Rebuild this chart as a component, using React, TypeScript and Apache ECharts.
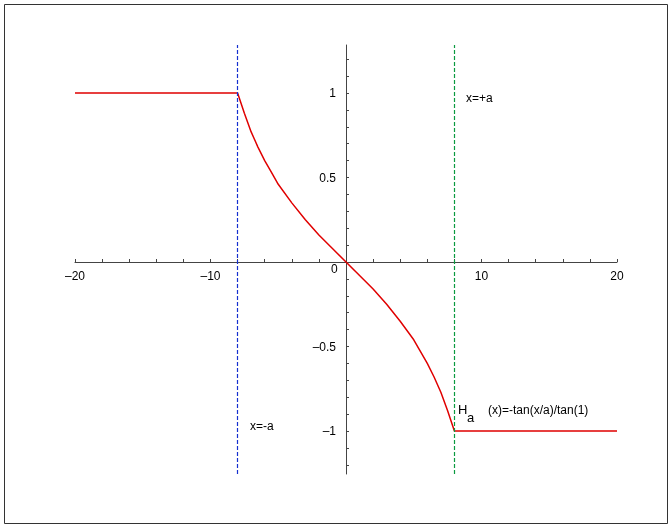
import * as echarts from "echarts";
import { useEffect, useRef } from "react";

// H_a(x), a = 8
const xs = [-20, -8, -7.5, -7, -6.5, -6, -5.5, -5, -4, -3, -2, -1, 0, 1, 2, 3, 4, 5, 5.5, 6, 6.5, 7, 7.5, 8, 20];
const ys = [1, 1, 0.88, 0.77, 0.68, 0.6, 0.53, 0.46, 0.35, 0.25, 0.16, 0.08, 0, -0.08, -0.16, -0.25, -0.35, -0.46, -0.53, -0.6, -0.68, -0.77, -0.88, -1, -1];
const xLabels = [-20, -10, 10, 20];
const yLabels = [-1, -0.5, 0.5, 1];
const xTicks = [-20, -18, -16, -14, -12, -10, -8, -6, -4, -2, 2, 4, 6, 8, 10, 12, 14, 16, 18, 20];
const yTicks = [-1.2, -1.1, -1, -0.9, -0.8, -0.7, -0.6, -0.5, -0.4, -0.3, -0.2, -0.1, 0.1, 0.2, 0.3, 0.4, 0.5, 0.6, 0.7, 0.8, 0.9, 1, 1.1, 1.2];

const dash = (v: number) => String(v).replace("-", "\u2013");

export default function App() {
	const chartRef = useRef<HTMLDivElement>(null);

	useEffect(() => {
		if (!chartRef.current) return;
		const chart = echarts.init(chartRef.current, null, { renderer: "svg" });
		const txt = { fontFamily: "Liberation Sans, Arial", fontSize: 12, color: "#000" };
		const font = "12px Liberation Sans, Arial";
		chart.setOption({
			animation: false,
			grid: { left: 75, right: 55, top: 45, bottom: 55 },
			xAxis: {
				type: "value",
				min: -20,
				max: 20,
				offset: -212,
				axisLine: { onZero: false, lineStyle: { color: "#444" } },
				axisTick: { customValues: xTicks, length: 3, inside: true, lineStyle: { color: "#444" } },
				axisLabel: { customValues: xLabels, formatter: dash, ...txt, margin: 8 },
				splitLine: { show: false },
			},
			yAxis: {
				type: "value",
				min: -1.254,
				max: 1.284,
				offset: -271,
				axisLine: { show: true, onZero: false, lineStyle: { color: "#444" } },
				axisTick: { customValues: yTicks, length: 3, inside: true, lineStyle: { color: "#444" } },
				axisLabel: { customValues: yLabels, formatter: dash, ...txt, margin: 10 },
				splitLine: { show: false },
			},
			graphic: [
				{ type: "rect", shape: { x: 4.5, y: 4.5, width: 663, height: 519 }, style: { fill: "none", stroke: "#333", lineWidth: 1 } },
				{ type: "text", left: 331, top: 263, style: { text: "0", font, fill: "#000" } },
				{ type: "text", left: 466, top: 92, style: { text: "x=+a", font, fill: "#000" } },
				{ type: "text", left: 250, top: 420, style: { text: "x=-a", font, fill: "#000" } },
				{ type: "text", left: 458, top: 403, style: { text: "H", font: "13px Liberation Sans, Arial", fill: "#000" } },
				{ type: "text", left: 467, top: 411, style: { text: "a", font: "13px Liberation Sans, Arial", fill: "#000" } },
				{ type: "text", left: 488, top: 404, style: { text: "(x)=-tan(x/a)/tan(1)", font, fill: "#000" } },
			],
			series: [
				{
					type: "line",
					data: xs.map((x, i) => [x, ys[i]]),
					showSymbol: false,
					lineStyle: { color: "#e00000", width: 1.5 },
					markLine: {
						symbol: "none",
						silent: true,
						label: { show: false },
						data: [
							{ xAxis: -8, lineStyle: { color: "#1530d0", type: [4, 2], width: 1.2 } },
							{ xAxis: 8, lineStyle: { color: "#0a9a40", type: [4, 2], width: 1.2 } },
						],
					},
				},
			],
		});
		return () => chart.dispose();
	}, []);

	return <div ref={chartRef} style={{ position: "fixed", left: 0, top: 0, width: 672, height: 529 }} />;
}
